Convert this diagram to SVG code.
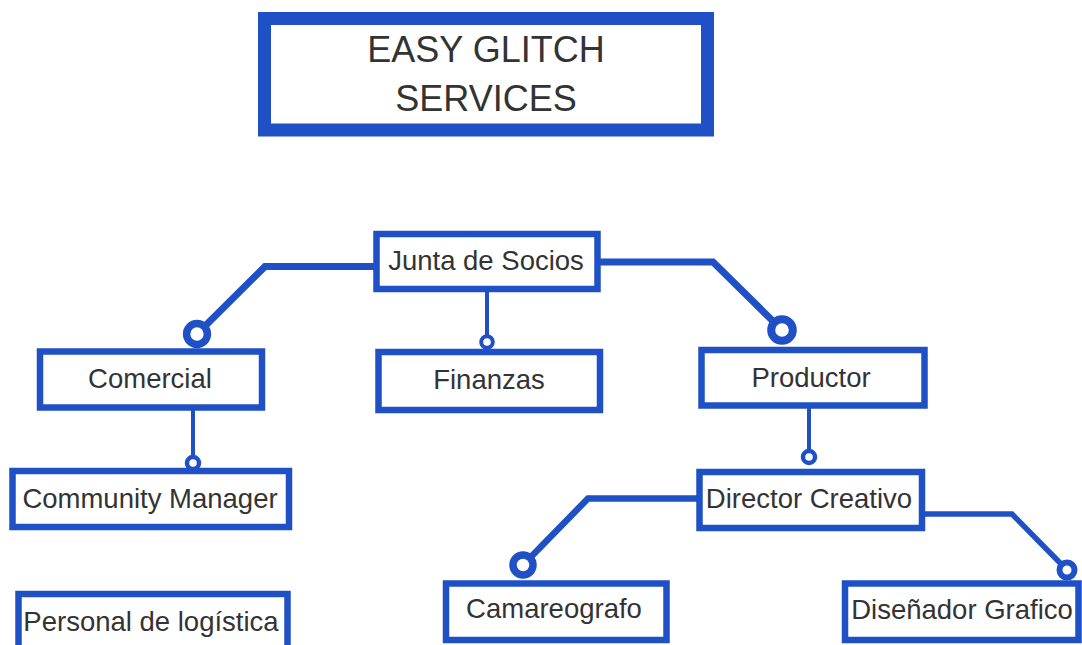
<svg xmlns="http://www.w3.org/2000/svg" width="1082" height="645" viewBox="0 0 1082 645">
<style>
.box{fill:#fff;stroke:#1f50c6;stroke-width:6.5}
.title{fill:#fff;stroke:#1f50c6;stroke-width:13}
.t{font-family:"Liberation Sans",Arial,sans-serif;font-size:27.5px;fill:#333;text-anchor:middle}
.tt{font-family:"Liberation Sans",Arial,sans-serif;font-size:36px;fill:#333;text-anchor:middle}
.ln{fill:none;stroke:#1f50c6;stroke-linejoin:miter}
.cb{fill:#fff;stroke:#1f50c6}
</style>
<rect width="1082" height="645" fill="#fff"/>
<g id="connectors">
<polyline class="ln" stroke-width="7" points="376,266.5 265,266.5 197,334"/>
<circle class="cb" cx="197" cy="334" r="10.4" stroke-width="7.5"/>
<polyline class="ln" stroke-width="7" points="597,262 713,262 782,330"/>
<circle class="cb" cx="782" cy="330" r="10.8" stroke-width="8"/>
<line class="ln" stroke-width="4" x1="487" y1="290" x2="487" y2="342"/>
<circle class="cb" cx="487" cy="342" r="5.8" stroke-width="4"/>
<line class="ln" stroke-width="4" x1="193" y1="408" x2="193" y2="463"/>
<circle class="cb" cx="193" cy="463" r="6" stroke-width="4.5"/>
<line class="ln" stroke-width="4" x1="809" y1="406" x2="809" y2="457"/>
<circle class="cb" cx="809" cy="457" r="6" stroke-width="4.5"/>
<polyline class="ln" stroke-width="6.5" points="700,498.5 588,498.5 523,565"/>
<circle class="cb" cx="523" cy="565" r="10" stroke-width="7.5"/>
<polyline class="ln" stroke-width="5.5" points="921,514 1012,514 1067,570"/>
<circle class="cb" cx="1067" cy="570" r="7.5" stroke-width="6"/>
</g>
<g id="title">
<rect class="title" x="264.5" y="18.5" width="443" height="111.5"/>
<text class="tt" x="486" y="62">EASY GLITCH</text>
<text class="tt" x="486" y="111">SERVICES</text>
</g>
<g id="junta">
<rect class="box" x="376.5" y="234" width="221" height="55"/>
<text class="t" x="486" y="270">Junta de Socios</text>
</g>
<g id="comercial">
<rect class="box" x="40" y="351.5" width="222" height="56"/>
<text class="t" x="150" y="388">Comercial</text>
</g>
<g id="finanzas">
<rect class="box" x="378.5" y="352" width="221.5" height="58"/>
<text class="t" x="489" y="389">Finanzas</text>
</g>
<g id="productor">
<rect class="box" x="701.5" y="350" width="223" height="55.5"/>
<text class="t" x="811" y="387">Productor</text>
</g>
<g id="community">
<rect class="box" x="12.5" y="471" width="276.5" height="56"/>
<text class="t" x="150" y="508">Community Manager</text>
</g>
<g id="director">
<rect class="box" x="699.5" y="472" width="222.5" height="56"/>
<text class="t" x="809" y="508">Director Creativo</text>
</g>
<g id="personal">
<rect class="box" x="18.5" y="594" width="269" height="60"/>
<text class="t" x="151" y="631">Personal de logística</text>
</g>
<g id="camareografo">
<rect class="box" x="446" y="583.5" width="220.5" height="56.5"/>
<text class="t" x="554" y="618">Camareografo</text>
</g>
<g id="disenador">
<rect class="box" x="845" y="583.5" width="233.5" height="56.5"/>
<text class="t" x="962" y="619">Diseñador Grafico</text>
</g>
</svg>
